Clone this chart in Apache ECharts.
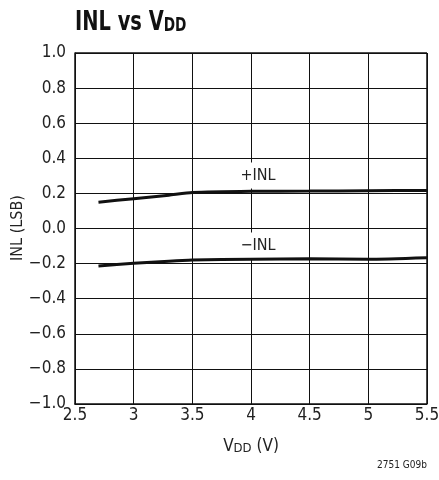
<!DOCTYPE html>
<html><head><meta charset="utf-8">
<script src="https://cdn.jsdelivr.net/npm/echarts@6/dist/echarts.min.js"></script>
<style>html,body{margin:0;padding:0;background:#fff}#c{width:439px;height:480px}</style>
</head><body><div id="c"></div>
<script>
var xTicks = [2.5, 3, 3.5, 4, 4.5, 5, 5.5];
var yTicks = [-1.0, -0.8, -0.6, -0.4, -0.2, 0.0, 0.2, 0.4, 0.6, 0.8, 1.0];
var vdd = [2.7, 3.0, 3.3, 3.5, 4.0, 4.5, 5.0, 5.5];
var inlPlus = [0.150, 0.170, 0.190, 0.205, 0.212, 0.213, 0.215, 0.217];
var inlMinus = [-0.213, -0.198, -0.186, -0.180, -0.175, -0.173, -0.175, -0.166];
var seriesLabels = ['+INL', '\u2212INL'];
var labelPos = [[4.06, 0.302], [4.06, -0.097]];

function pickFont(cands) {
  var ctx = document.createElement('canvas').getContext('2d');
  var s = 'INL vs VDD 0.123456789';
  for (var i = 0; i < cands.length; i++) {
    var ok = false;
    ['monospace', 'serif'].forEach(function (base) {
      ctx.font = '30px ' + base; var w0 = ctx.measureText(s).width;
      ctx.font = '30px "' + cands[i] + '", ' + base; var w1 = ctx.measureText(s).width;
      if (Math.abs(w0 - w1) > 0.5) ok = true;
    });
    if (ok) return '"' + cands[i] + '"';
  }
  return 'sans-serif';
}
var FN = pickFont(['Liberation Sans Narrow', 'DejaVu Sans Condensed', 'Roboto Condensed', 'Open Sans Condensed', 'Noto Sans Condensed', 'Liberation Sans']);
var FONT = FN + ', "Liberation Sans", Arial, sans-serif';

function fmtY(v) {
  var s = Math.abs(v).toFixed(1);
  return (v < -1e-9 ? '\u2212' : '') + s;
}
function pairs(xs, ys) { return xs.map(function (x, i) { return [x, ys[i]]; }); }

var chart = echarts.init(document.getElementById('c'));
chart.setOption({
  animation: false,
  grid: { left: 75, right: 12, top: 53, bottom: 76, show: false, containLabel: false, outerBoundsMode: 'none' },
  xAxis: {
    type: 'value', min: 2.5, max: 5.5, interval: 0.5,
    axisLine: { show: true, onZero: false, lineStyle: { color: '#111', width: 1.5 } },
    axisTick: { show: false },
    splitLine: { show: true, lineStyle: { color: '#111', width: 1 } },
    axisLabel: { fontFamily: FONT, fontSize: 17, color: '#222', margin: 3,
      formatter: function (v) { return String(v); } },
    name: '{a|V}{b|DD}{a| (V)}',
    nameLocation: 'middle', nameGap: 29,
    nameTextStyle: {
      rich: {
        a: { fontFamily: FONT, fontSize: 17, lineHeight: 22, color: '#222', verticalAlign: 'bottom' },
        b: { fontFamily: FONT, fontSize: 13, lineHeight: 10, color: '#222', verticalAlign: 'bottom' }
      }
    }
  },
  yAxis: {
    type: 'value', min: -1.0, max: 1.0, interval: 0.2,
    axisLine: { show: true, onZero: false, lineStyle: { color: '#111', width: 1.5 } },
    axisTick: { show: false },
    splitLine: { show: true, lineStyle: { color: '#111', width: 1 } },
    axisLabel: { fontFamily: FONT, fontSize: 17, color: '#222', margin: 9, formatter: fmtY }
  },
  graphic: [
    { type: 'text', x: 75, y: 4, scaleX: 0.8, z: 10,
      style: {
        text: '{a|INL vs V}{b|DD}',
        rich: {
          a: { fontFamily: FONT, fontWeight: 'bold', fontSize: 27, lineHeight: 32, fill: '#111', verticalAlign: 'bottom' },
          b: { fontFamily: FONT, fontWeight: 'bold', fontSize: 19, lineHeight: 14, fill: '#111', verticalAlign: 'bottom' }
        }
      }
    },
    { type: 'text', x: 18, y: 228, rotation: Math.PI / 2, z: 10,
      style: { text: 'INL (LSB)', font: '16px ' + FONT, fill: '#222', align: 'center', verticalAlign: 'middle' } },
    { type: 'line', shape: { x1: 427, y1: 53, x2: 427, y2: 404 }, style: { stroke: '#111', lineWidth: 1.5 }, silent: true },
    { type: 'line', shape: { x1: 75, y1: 53, x2: 427, y2: 53 }, style: { stroke: '#111', lineWidth: 1.5 }, silent: true },
    { type: 'text', right: 12, top: 460, style: { text: '2751 G09b', font: '10px ' + FONT, fill: '#222' } }
  ],
  series: [
    {
      type: 'line', data: pairs(vdd, inlPlus), showSymbol: false, smooth: 0.2,
      lineStyle: { color: '#111', width: 3 }, z: 5,
      markPoint: {
        symbol: 'rect', symbolSize: [1, 1], itemStyle: { color: 'rgba(0,0,0,0)' },
        label: { show: true, position: 'inside', formatter: seriesLabels[0], fontFamily: FONT, fontSize: 16, lineHeight: 16, color: '#222',
          backgroundColor: '#fff', padding: [9, 4, 1, 4] },
        data: [{ coord: labelPos[0] }]
      }
    },
    {
      type: 'line', data: pairs(vdd, inlMinus), showSymbol: false, smooth: 0.2,
      lineStyle: { color: '#111', width: 3 }, z: 5,
      markPoint: {
        symbol: 'rect', symbolSize: [1, 1], itemStyle: { color: 'rgba(0,0,0,0)' },
        label: { show: true, position: 'inside', formatter: seriesLabels[1], fontFamily: FONT, fontSize: 16, lineHeight: 16, color: '#222',
          backgroundColor: '#fff', padding: [7, 4, 3, 4] },
        data: [{ coord: labelPos[1] }]
      }
    }
  ]
});
</script>
</body></html>
